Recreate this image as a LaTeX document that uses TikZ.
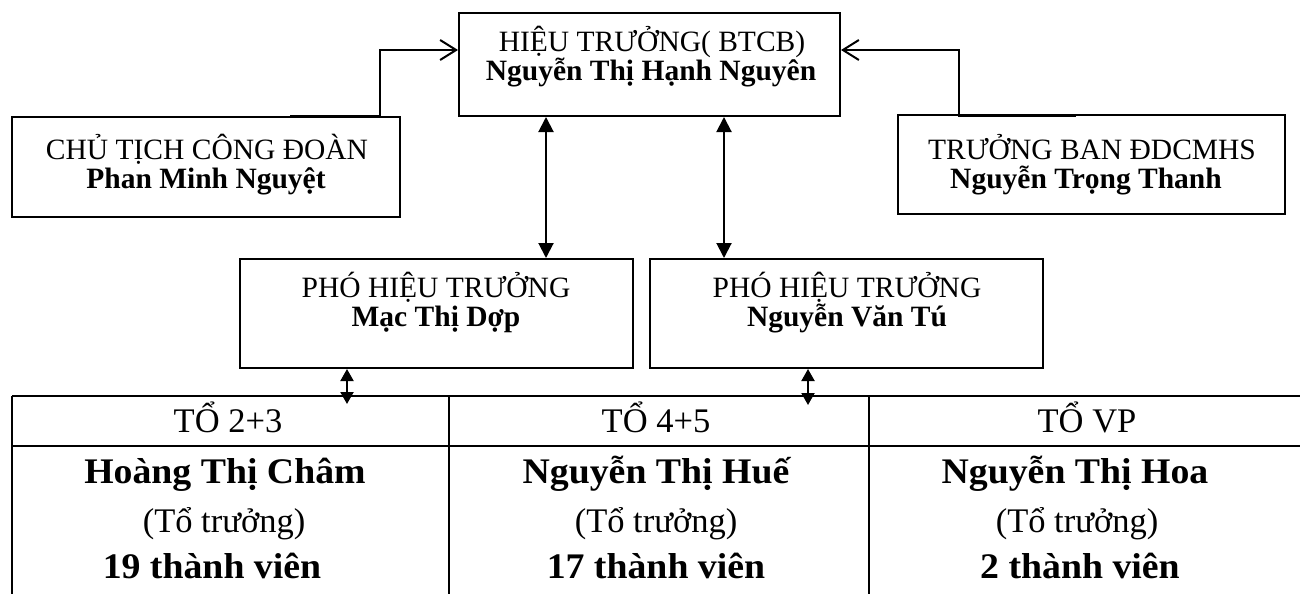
\documentclass[tikz,border=0pt]{standalone}
\usepackage{fontspec}
\setmainfont{Liberation Serif}
\newfontfamily\tabbold[FakeStretch=1.05]{Liberation Serif}
\usetikzlibrary{arrows.meta}
\begin{document}
\begin{tikzpicture}[x=1pt,y=-1pt,
  box/.style={draw, line width=2pt, inner sep=0pt},
  lab/.style={anchor=base, inner sep=0pt, font=\fontsize{29.5}{32}\selectfont},
  labb/.style={anchor=base, inner sep=0pt, font=\fontsize{29.5}{32}\selectfont\bfseries},
  treg/.style={anchor=base, inner sep=0pt, font=\fontsize{34.5}{38}\selectfont},
  tbold/.style={anchor=base, inner sep=0pt, font=\tabbold\fontsize{36}{40}\selectfont\bfseries},
  barb/.style={line width=2pt, -{Straight Barb[length=16pt,width=20pt]}},
  dbl/.style={line width=2pt, {Triangle[length=15pt,width=15pt]}-{Triangle[length=15pt,width=15pt]}},
  sdbl/.style={line width=2pt, {Triangle[length=12pt,width=13pt]}-{Triangle[length=12pt,width=13pt]}},
  tabline/.style={line width=2.5pt}]
\useasboundingbox (0,0) rectangle (1300,594);

% boxes
\node[box, minimum width=381pt, minimum height=103pt] (ht) at (649.5,64.5) {};
\node[box, minimum width=388pt, minimum height=100pt] (cd) at (206,167) {};
\node[box, minimum width=387pt, minimum height=99pt] (tb) at (1091.5,164.5) {};
\node[box, minimum width=393pt, minimum height=109pt] (p1) at (436.5,313.5) {};
\node[box, minimum width=393pt, minimum height=109pt] (p2) at (846.5,313.5) {};

% box texts
\node[lab] (ht1) at (652,52) {HIỆU TRƯỞNG( BTCB)};
\node[labb] (ht2) at (651,80) {Nguyễn Thị Hạnh Nguyên};
\node[lab] (cd1) at (207,159) {CHỦ TỊCH CÔNG ĐOÀN};
\node[labb] (cd2) at (206,188) {Phan Minh Nguyệt};
\node[lab] (tb1) at (1092,159) {TRƯỞNG BAN ĐDCMHS};
\node[labb] (tb2) at (1086,188) {Nguyễn Trọng Thanh};
\node[lab] (p1a) at (436,297) {PHÓ HIỆU TRƯỞNG};
\node[labb] (p1b) at (436,326) {Mạc Thị Dợp};
\node[lab] (p2a) at (847,297) {PHÓ HIỆU TRƯỞNG};
\node[labb] (p2b) at (847,326) {Nguyễn Văn Tú};

% connectors to the head
\coordinate (lstart) at (290,116);
\coordinate (lbend) at (380,50);
\draw[barb] (lstart) -| (lbend) -- (lbend -| ht.west);
\coordinate (rstart) at (1076,116);
\coordinate (rbend) at (959,50);
\draw[barb] (rstart) -| (rbend) -- (rbend -| ht.east);

\draw[dbl] ([xshift=-103.5pt]ht.south) -- ([xshift=-103.5pt]ht.south |- p1.north);
\draw[dbl] ([xshift=74.5pt]ht.south) -- ([xshift=74.5pt]ht.south |- p2.north);

% table
\draw[tabline] (12,396) -- (1300,396);
\draw[tabline] (12,446) -- (1300,446);
\draw[tabline] (12,396) -- (12,594);
\draw[tabline] (449,396) -- (449,594);
\draw[tabline] (869,396) -- (869,594);

\coordinate (t1) at (347,404);
\coordinate (t2) at (808,405);
\draw[sdbl] (t1 |- p1.south) -- (t1);
\draw[sdbl] (t2 |- p2.south) -- (t2);

% table texts
\node[treg] (c1h) at (228,432) {TỔ 2+3};
\node[tbold] (c1n) at (225,483) {Hoàng Thị Châm};
\node[treg] (c1r) at (224,532) {(Tổ trưởng)};
\node[tbold] (c1m) at (212,578) {19 thành viên};

\node[treg] (c2h) at (656,432) {TỔ 4+5};
\node[tbold] (c2n) at (656,483) {Nguyễn Thị Huế};
\node[treg] (c2r) at (656,532) {(Tổ trưởng)};
\node[tbold] (c2m) at (656,578) {17 thành viên};

\node[treg] (c3h) at (1087,432) {TỔ VP};
\node[tbold] (c3n) at (1075,483) {Nguyễn Thị Hoa};
\node[treg] (c3r) at (1077,532) {(Tổ trưởng)};
\node[tbold] (c3m) at (1080,578) {2 thành viên};
\end{tikzpicture}
\end{document}
